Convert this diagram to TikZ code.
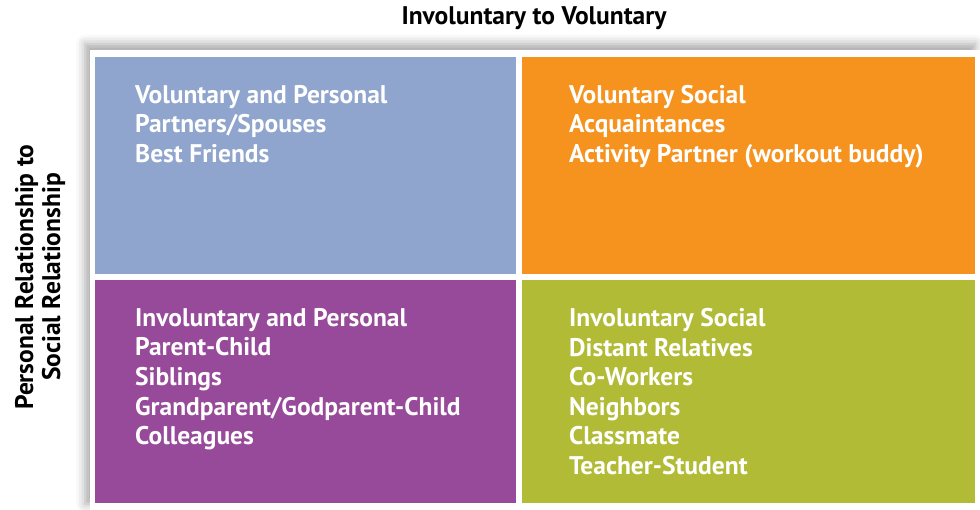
\documentclass[tikz,border=0pt]{standalone}
\usepackage{fontspec}
\setmainfont{PT Sans}
\usetikzlibrary{positioning,shadows.blur}

\definecolor{quadblue}{RGB}{143,165,206}
\definecolor{quadorange}{RGB}{246,146,30}
\definecolor{quadpurple}{RGB}{151,74,154}
\definecolor{quadgreen}{RGB}{177,187,54}

\begin{document}
\begin{tikzpicture}[x=1pt,y=1pt,
    quad/.style={rectangle,inner sep=0pt,anchor=north west,fill=#1},
    qtext/.style={anchor=north west,inner sep=0pt,align=left,text=white,font=\bfseries\fontsize{25.5}{29.6}\selectfont},
    axis label/.style={inner sep=0pt,align=center,font=\bfseries\fontsize{25.5}{27}\selectfont}]
    \useasboundingbox (0,0) rectangle (980,510);
    % white panel with soft shadow
    \node[rectangle,fill=white,inner sep=0pt,anchor=south west,minimum width=890pt,minimum height=460pt,
          blur shadow={shadow xshift=-5pt,shadow yshift=6pt,shadow blur radius=9pt,shadow opacity=35}] (panel) at (90,0) {};
    % quadrants
    \node[quad=quadblue,minimum width=421pt,minimum height=217pt] (vp) at (95,453) {};
    \node[quad=quadorange,minimum width=453pt,minimum height=217pt] (vs) at (522,453) {};
    \node[quad=quadpurple,minimum width=421pt,minimum height=223pt] (ip) at (95,230) {};
    \node[quad=quadgreen,minimum width=453pt,minimum height=223pt] (is) at (522,230) {};

    \node[qtext,below right=28pt and 40pt of vp.north west] (vptext)
        {Voluntary and Personal\\Partners/Spouses\\Best Friends};
    \node[qtext,below right=28pt and 47pt of vs.north west] (vstext)
        {Voluntary Social\\Acquaintances\\Activity Partner (workout buddy)};
    \node[qtext,below right=28pt and 40pt of ip.north west] (iptext)
        {Involuntary and Personal\\Parent-Child\\Siblings\\Grandparent/Godparent-Child\\Colleagues};
    \node[qtext,below right=28pt and 47pt of is.north west] (istext)
        {Involuntary Social\\Distant Relatives\\Co-Workers\\Neighbors\\Classmate\\Teacher-Student};

    % axis titles
    \node[axis label] (htitle) at (534,492) {Involuntary to Voluntary};
    \node[axis label,rotate=90] (vtitle) at (40,233) {Personal Relationship to\\Social Relationship};
\end{tikzpicture}
\end{document}
